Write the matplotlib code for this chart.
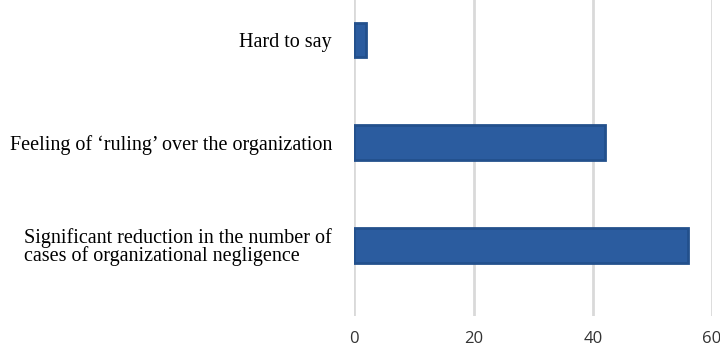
import numpy as np
import matplotlib.pyplot as plt

categories = ['Significant reduction in the number of\ncases of organizational negligence',
              'Feeling of \u2018ruling\u2019 over the organization',
              'Hard to say']
values = [56, 42, 2]
xticks = [0, 20, 40, 60]

fig = plt.figure(figsize=(7.2, 3.48), dpi=100)
ax = fig.add_axes([0.492, 0.092, 0.497, 0.908])

pos = np.arange(len(categories))
ax.barh(pos, values, height=0.34, color='#2B5C9F', edgecolor='#23508C', linewidth=2, zorder=3)

ax.set_xlim(0, 60)
ax.set_ylim(-0.69, 2.39)
ax.set_xticks(xticks)
ax.xaxis.grid(True, color='#D9D9D9', linewidth=2, zorder=0)
ax.set_yticks(pos)
ax.set_yticklabels(categories, family='Liberation Serif', fontsize=14.5,
                   ha='right', multialignment='left', linespacing=0.9)
for lab in ax.get_xticklabels():
    lab.set_family('Open Sans')
    lab.set_fontsize(12)
    lab.set_color('#333333')
ax.tick_params(axis='y', length=0, pad=16)
ax.tick_params(axis='x', length=0, pad=11)
for s in ax.spines.values():
    s.set_visible(False)

fig.savefig('out.png', dpi=100)
